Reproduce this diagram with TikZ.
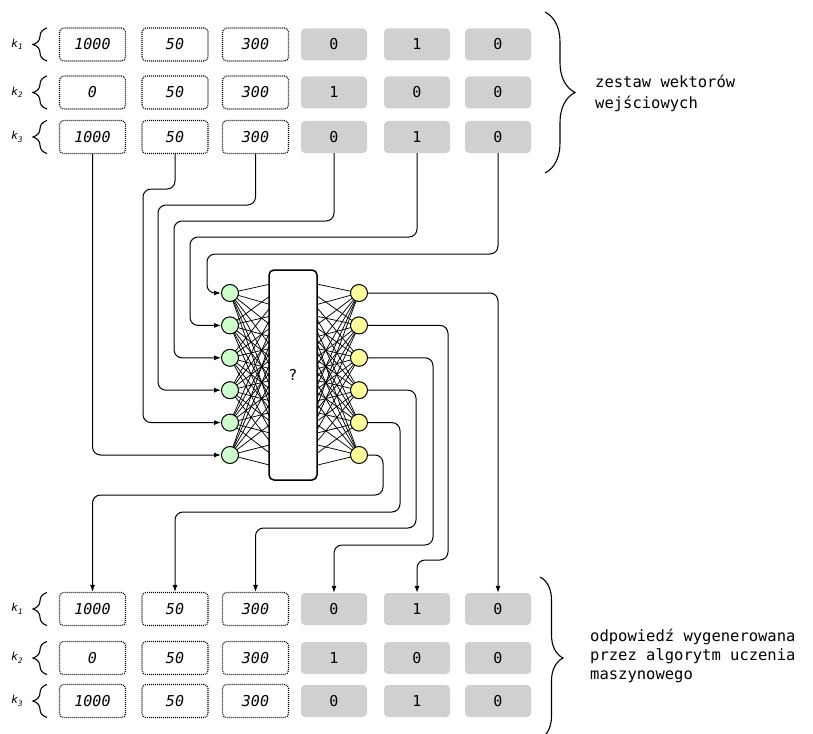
\documentclass[tikz,border=0pt]{standalone}
\usepackage{fontspec}
\setmainfont{DejaVu Sans Mono}
\setmonofont{DejaVu Sans Mono}
\usetikzlibrary{arrows.meta,decorations.pathreplacing}
\definecolor{grayfill}{HTML}{D0D0D0}
\definecolor{greenfill}{HTML}{CCFFCC}
\definecolor{yellowfill}{HTML}{FFFF99}
\begin{document}
\begin{tikzpicture}[x=1pt,y=-1pt,
  valbox/.style={draw,line width=1.1pt,dash pattern=on 1pt off 1pt,rounded corners=4pt,fill=white,
    minimum width=66pt,minimum height=33pt,inner sep=0pt,font=\fontsize{15}{17}\selectfont\itshape},
  onebox/.style={fill=grayfill,rounded corners=4pt,minimum width=66pt,minimum height=32pt,inner sep=0pt,
    font=\fontsize{15}{17}\selectfont},
  klabel/.style={font=\fontsize{11}{13}\selectfont\itshape},
  lbrace/.style={draw,line width=1.1pt,decorate,decoration={brace,amplitude=14pt}},
  conn/.style={draw,line width=1pt,rounded corners=8pt,-{Latex[length=7pt,width=5pt]}},
  syn/.style={draw,line width=0.75pt},
  inneuron/.style={circle,draw,line width=1pt,fill=greenfill,minimum size=17pt,inner sep=0pt},
  outneuron/.style={circle,draw,line width=1pt,fill=yellowfill,minimum size=17pt,inner sep=0pt},
  hidbox/.style={draw,line width=1.5pt,rounded corners=5pt,fill=white,minimum width=48pt,minimum height=210pt,
    inner sep=0pt,font=\fontsize{15}{17}\selectfont},
  sidetext/.style={align=left,anchor=west,inner sep=0pt,font=\fontsize{15.5}{21}\selectfont}
]
\useasboundingbox (0,0) rectangle (813,733);

\def\cxA{92.5}\def\cxB{175}\def\cxC{255.5}\def\cxD{334}\def\cxE{417}\def\cxF{498}

% ---------- top set ----------
\foreach \r/\y/\a in {1/44.5/1000,2/92.5/0,3/137/1000}{
  \node[valbox] (t\r1) at (\cxA,\y) {\a};
  \node[valbox] (t\r2) at (\cxB,\y) {50};
  \node[valbox] (t\r3) at (\cxC,\y) {300};
}
\node[onebox] (t14) at (\cxD,44.5) {0};
\node[onebox] (t15) at (\cxE,44.5) {1};
\node[onebox] (t16) at (\cxF,44.5) {0};
\node[onebox] (t24) at (\cxD,92.5) {1};
\node[onebox] (t25) at (\cxE,92.5) {0};
\node[onebox] (t26) at (\cxF,92.5) {0};
\node[onebox] (t34) at (\cxD,137) {0};
\node[onebox] (t35) at (\cxE,137) {1};
\node[onebox] (t36) at (\cxF,137) {0};

% ---------- bottom set ----------
\foreach \r/\y/\a in {1/609/1000,2/658/0,3/701/1000}{
  \node[valbox] (b\r1) at (\cxA,\y) {\a};
  \node[valbox] (b\r2) at (\cxB,\y) {50};
  \node[valbox] (b\r3) at (\cxC,\y) {300};
}
\node[onebox] (b14) at (\cxD,609) {0};
\node[onebox] (b15) at (\cxE,609) {1};
\node[onebox] (b16) at (\cxF,609) {0};
\node[onebox] (b24) at (\cxD,658) {1};
\node[onebox] (b25) at (\cxE,658) {0};
\node[onebox] (b26) at (\cxF,658) {0};
\node[onebox] (b34) at (\cxD,701) {0};
\node[onebox] (b35) at (\cxE,701) {1};
\node[onebox] (b36) at (\cxF,701) {0};

% ---------- k labels and small braces ----------
\foreach \n/\y in {1/44.5,2/92.5,3/137}{
  \node[klabel] (kt\n) at (17,\y) {k\raisebox{-2.5pt}{\fontsize{7.5}{8}\selectfont\itshape\n}};
  \draw[lbrace] (47,\y+16.5) -- (47,\y-16.5);
}
\foreach \n/\y in {1/609,2/658,3/701}{
  \node[klabel] (kb\n) at (17,\y) {k\raisebox{-2.5pt}{\fontsize{7.5}{8}\selectfont\itshape\n}};
  \draw[lbrace] (47,\y+16.5) -- (47,\y-16.5);
}

% ---------- big braces and side texts ----------
\draw[line width=1.1pt,decorate,decoration={brace,amplitude=30pt}] (545,12) -- (545,173);
\node[sidetext] (intext) at (595,93) {zestaw wektorów\\wejściowych};
\draw[line width=1.1pt,decorate,decoration={brace,amplitude=23pt}] (540,577) -- (540,739);
\node[sidetext,font=\fontsize{15.5}{19}\selectfont] (outtext) at (590,656)
  {odpowiedź wygenerowana\\przez algorytm uczenia\\maszynowego};

% ---------- network ----------
\foreach \i in {1,...,6}{
  \coordinate (gc\i) at (230,{293+32.4*(\i-1)});
  \coordinate (yc\i) at (359,{293+32.4*(\i-1)});
}
\foreach \j in {1,...,7}{
  \coordinate (h\j) at (293,{279+32*(\j-1)});
}
\foreach \i in {1,...,6}{
  \foreach \j in {1,...,7}{
    \draw[syn] (gc\i) -- (h\j);
    \draw[syn] (yc\i) -- (h\j);
  }
}
\node[hidbox] (hid) at (293,375) {?};
\foreach \i in {1,...,6}{
  \node[inneuron] (g\i) at (gc\i) {};
  \node[outneuron] (y\i) at (yc\i) {};
}

% ---------- input connectors ----------
\draw[conn] (t31.south) |- (g6.west);
\draw[conn] (t32.south) |- (143,189) |- (g5.west);
\draw[conn] (t33.south) |- (158,205) |- (g4.west);
\draw[conn] (t34.south) |- (174,221) |- (g3.west);
\draw[conn] (t35.south) |- (190,237) |- (g2.west);
\draw[conn] (t36.south) |- (207,254) |- (g1.west);

% ---------- output connectors ----------
\draw[conn] (y1.east) -| (b16.north);
\draw[conn] (y2.east) -| (448,560) -| (b15.north);
\draw[conn] (y3.east) -| (433,545) -| (b14.north);
\draw[conn] (y4.east) -| (416,528) -| (b13.north);
\draw[conn] (y5.east) -| (400,512) -| (b12.north);
\draw[conn] (y6.east) -| (383,495) -| (b11.north);
\end{tikzpicture}
\end{document}
